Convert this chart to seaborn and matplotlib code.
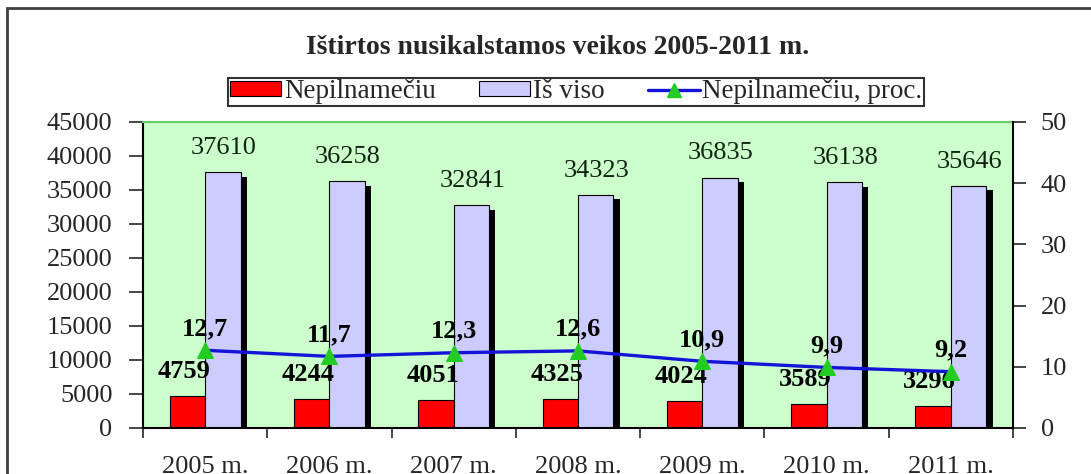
import numpy as np
import pandas as pd
import matplotlib
matplotlib.use('Agg')
import matplotlib.pyplot as plt
import matplotlib.patheffects as pe
from matplotlib.patches import Patch, Rectangle
from matplotlib.lines import Line2D
import seaborn as sns

# duomenys
years = ['2005 m.', '2006 m.', '2007 m.', '2008 m.', '2009 m.', '2010 m.', '2011 m.']
juveniles = [4759, 4244, 4051, 4325, 4024, 3589, 3296]
total = [37610, 36258, 32841, 34323, 36835, 36138, 35646]
pct = [12.7, 11.7, 12.3, 12.6, 10.9, 9.9, 9.2]
pct_labels = ['12,7', '11,7', '12,3', '12,6', '10,9', '9,9', '9,2']

series_names = ['Nepilnamečiu', 'Iš viso', 'Nepilnamečiu, proc.']
title = 'Ištirtos nusikalstamos veikos 2005-2011 m.'

RED = '#FF0000'
LAVENDER = '#CCCCFF'
GREEN_BG = '#CCFFCC'
BLUE = '#1414D8'
MARKER_GREEN = '#22CC22'

sns.set_style('white')
plt.rcParams['font.family'] = ['Liberation Serif', 'DejaVu Serif']

df = pd.DataFrame({
    'year': years * 2,
    'value': juveniles + total,
    'series': [series_names[0]] * len(years) + [series_names[1]] * len(years),
})

fig = plt.figure(figsize=(10.91, 4.74), dpi=100)
ax = fig.add_axes([143 / 1091, 46 / 474, 870 / 1091, 306 / 474])
ax.set_facecolor(GREEN_BG)

sns.barplot(data=df, x='year', y='value', hue='series', order=years,
            hue_order=series_names[:2], palette=[RED, LAVENDER],
            width=0.57, gap=0, saturation=1, edgecolor='black', linewidth=0.8,
            legend=False, ax=ax)

shadow = [pe.SimplePatchShadow(offset=(4.5, -3.5), shadow_rgbFace='black', alpha=1.0), pe.Normal()]
for p in ax.patches:
    p.set_path_effects(shadow)

ax.set_ylim(0, 45000)
ax.set_xlim(-0.5, len(years) - 0.5)
ax.set_yticks(np.arange(0, 45001, 5000))
ax.set_xlabel('')
ax.set_ylabel('')
ax.tick_params(axis='y', labelsize=19, length=10, width=1.2, pad=12, left=True)
ax.set_xticks(np.arange(len(years)))
ax.set_xticklabels(years)
ax.tick_params(axis='x', which='major', labelsize=19, length=0, pad=20)
ax.set_xticks(np.arange(len(years) + 1) - 0.5, minor=True)
ax.tick_params(axis='x', which='minor', length=7, width=1.2, bottom=True)

for s in ['left', 'bottom']:
    ax.spines[s].set_color('black')
    ax.spines[s].set_linewidth(1.5)
ax.spines['top'].set_color('#66CC66')
ax.spines['top'].set_linewidth(1.5)
ax.spines['right'].set_visible(False)

# reikšmių žymės
for i, (j, t) in enumerate(zip(juveniles, total)):
    ax.annotate(f'{j}', (i - 0.17, j), xytext=(0, 13), textcoords='offset points',
                ha='center', va='baseline', fontsize=19, fontweight='bold', color='black')
    ax.annotate(f'{t}', (i + 0.15, t), xytext=(0, 13), textcoords='offset points',
                ha='center', va='baseline', fontsize=19, color='#102510')

# procentų linija
ax2 = ax.twinx()
sns.lineplot(x=np.arange(len(years)), y=pct, ax=ax2, color=BLUE, linewidth=2.4,
             marker='^', markersize=11, markerfacecolor=MARKER_GREEN,
             markeredgecolor=MARKER_GREEN, zorder=5)
ax2.set_ylim(0, 50)
ax2.set_yticks(np.arange(0, 51, 10))
ax2.tick_params(axis='y', labelsize=19, length=9, width=1.2, pad=11, right=True)
for s in ['left', 'top', 'bottom']:
    ax2.spines[s].set_visible(False)
ax2.spines['right'].set_color('black')
ax2.spines['right'].set_linewidth(1.5)
ax2.set_xlim(-0.5, len(years) - 0.5)

for i, (v, lab) in enumerate(zip(pct, pct_labels)):
    ax2.annotate(lab, (i, v), xytext=(0, 11), textcoords='offset points',
                 ha='center', va='baseline', fontsize=19, fontweight='bold', color='black')

# pavadinimas
fig.text(558 / 1091, 1 - 47 / 474, title, ha='center', va='center',
         fontsize=20, fontweight='bold')

# legenda
handles = [
    Patch(facecolor=RED, edgecolor='black', linewidth=0.8),
    Patch(facecolor=LAVENDER, edgecolor='black', linewidth=0.8),
    Line2D([], [], color=BLUE, linewidth=2.4, marker='^', markersize=10,
           markerfacecolor=MARKER_GREEN, markeredgecolor=MARKER_GREEN),
]
leg = fig.legend(handles, series_names, loc='upper center', ncol=3,
                 bbox_to_anchor=(576 / 1091, 1 - 78 / 474), fontsize=19.5,
                 frameon=True, fancybox=False, shadow=False, borderpad=0.05,
                 handlelength=1.9, handleheight=0.45, handletextpad=0.1,
                 columnspacing=1.6, borderaxespad=0)
leg.get_frame().set_edgecolor('black')
leg.get_frame().set_linewidth(1.5)

# išorinis rėmelis
fig.patches.append(Rectangle((7 / 1091, -0.05), 1.1, 1 - 8 / 474 + 0.05,
                             transform=fig.transFigure, fill=False,
                             edgecolor='#404040', linewidth=2))

fig.savefig('out.png', dpi=100)
